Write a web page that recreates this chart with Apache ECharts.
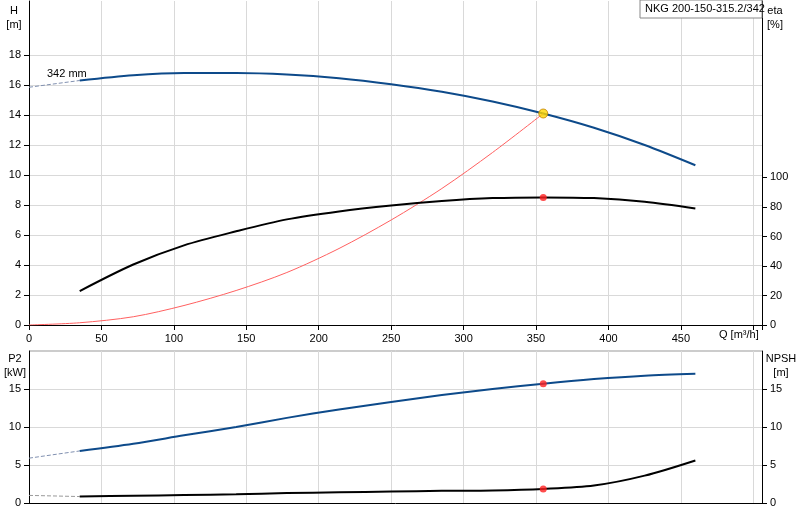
<!DOCTYPE html>
<html><head><meta charset="utf-8">
<script src="https://cdn.jsdelivr.net/npm/echarts@6/dist/echarts.min.js"></script>
<style>html,body{margin:0;padding:0;background:#fff}#c{width:800px;height:520px}</style>
</head><body><div id="c"></div>
<script>
const qPts = [35,72,107,143,178,214,250,285,320,355,390,425,460];
const headVals = [16.3,16.65,16.8,16.8,16.7,16.45,16.05,15.55,14.9,14.1,13.15,12.0,10.65];
const etaVals = [23,41,54,63.5,71.6,77,81,84,86,86.5,86,83.5,79];
const p2Vals = [6.85,7.8,8.9,10.0,11.2,12.3,13.3,14.2,15.0,15.7,16.3,16.75,17.0];
const npshVals = [0.85,0.95,1.05,1.15,1.3,1.4,1.5,1.6,1.65,1.85,2.3,3.6,5.6];
const sysQ = [0,35,72,107,143,178,214,250,285,320,355];
const sysH = [0,0.15,0.55,1.3,2.3,3.5,5.1,7.0,9.1,11.5,14.1];
const headExt = [[0,15.85],[35,16.3]];
const p2Ext = [[0,5.9],[35,6.85]];
const npshExt = [[0,1.0],[35,0.85]];
const dutyQ = 355, dutyH = 14.1, dutyEta = 86.5, dutyP2 = 15.7, dutyNpsh = 1.85;
const xTicks = [0,50,100,150,200,250,300,350,400,450];
const hTicks = [0,2,4,6,8,10,12,14,16,18];
const etaTicks = [0,20,40,60,80,100];
const lowTicks = [0,5,10,15];

const pair = (xs, ys) => xs.map((x,i)=>[x,ys[i]]);
const F = 'Liberation Sans, Arial, sans-serif';
const lab = {color:'#000', fontFamily:F, fontSize:11};
const gridLine = {show:true, lineStyle:{color:'#d9d9d9', width:1}};
const blk = {color:'#000'};
const chart = echarts.init(document.getElementById('c'));
chart.setOption({
  animation:false,
  grid:[{left:29,right:38,top:1,height:324},{left:29,right:38,top:351,height:152}],
  xAxis:[
    {gridIndex:0,type:'value',min:0,max:506,interval:50,
     axisLine:{lineStyle:blk},axisTick:{lineStyle:blk},
     axisLabel:{...lab,formatter:v=>xTicks.includes(v)?String(v):''},splitLine:gridLine},
    {gridIndex:1,type:'value',min:0,max:506,interval:50,
     axisLine:{lineStyle:blk},axisTick:{show:false},axisLabel:{show:false},splitLine:gridLine}
  ],
  yAxis:[
    {gridIndex:0,type:'value',min:0,max:21.6,interval:2,
     axisLine:{show:true,lineStyle:blk},axisTick:{show:true,lineStyle:blk,customValues:hTicks},
     axisLabel:{...lab,customValues:hTicks},splitLine:gridLine},
    {gridIndex:0,type:'value',min:0,max:219.6,interval:20,position:'right',
     axisLine:{show:true,lineStyle:blk},axisTick:{show:true,lineStyle:blk,customValues:etaTicks},
     axisLabel:{...lab,customValues:etaTicks},splitLine:{show:false}},
    {gridIndex:1,type:'value',min:0,max:20,interval:5,
     axisLine:{show:true,lineStyle:blk},axisTick:{show:true,lineStyle:blk,customValues:lowTicks},
     axisLabel:{...lab,customValues:lowTicks},splitLine:gridLine},
    {gridIndex:1,type:'value',min:0,max:20,interval:5,position:'right',
     axisLine:{show:true,lineStyle:blk},axisTick:{show:true,lineStyle:blk,customValues:lowTicks},
     axisLabel:{...lab,customValues:lowTicks},splitLine:{show:false}}
  ],
  series:[
    {type:'line',xAxisIndex:0,yAxisIndex:0,data:headExt,symbol:'none',lineStyle:{color:'#8090b0',width:1,type:'dashed'}},
    {type:'line',xAxisIndex:0,yAxisIndex:0,data:pair(qPts,headVals),symbol:'none',smooth:0.3,lineStyle:{color:'#0d4a8a',width:2}},
    {type:'line',xAxisIndex:0,yAxisIndex:0,data:pair(sysQ,sysH),symbol:'none',smooth:0.3,lineStyle:{color:'#ff6060',width:1}},
    {type:'line',xAxisIndex:0,yAxisIndex:1,data:pair(qPts,etaVals),symbol:'none',smooth:0.3,lineStyle:{color:'#000',width:2}},
    {type:'scatter',xAxisIndex:0,yAxisIndex:0,data:[[dutyQ,dutyH]],symbolSize:9,itemStyle:{color:'#ffd700',borderColor:'#c08000',borderWidth:1},z:5},
    {type:'scatter',xAxisIndex:0,yAxisIndex:1,data:[[dutyQ,dutyEta]],symbolSize:7,itemStyle:{color:'#ff2020'},z:5},
    {type:'line',xAxisIndex:1,yAxisIndex:2,data:p2Ext,symbol:'none',lineStyle:{color:'#8090b0',width:1,type:'dashed'}},
    {type:'line',xAxisIndex:1,yAxisIndex:2,data:pair(qPts,p2Vals),symbol:'none',smooth:0.3,lineStyle:{color:'#0d4a8a',width:2}},
    {type:'line',xAxisIndex:1,yAxisIndex:3,data:npshExt,symbol:'none',lineStyle:{color:'#999',width:1,type:'dashed'}},
    {type:'line',xAxisIndex:1,yAxisIndex:3,data:pair(qPts,npshVals),symbol:'none',smooth:0.3,lineStyle:{color:'#000',width:2}},
    {type:'scatter',xAxisIndex:1,yAxisIndex:2,data:[[dutyQ,dutyP2]],symbolSize:7,itemStyle:{color:'#ff2020'},z:5},
    {type:'scatter',xAxisIndex:1,yAxisIndex:3,data:[[dutyQ,dutyNpsh]],symbolSize:7,itemStyle:{color:'#ff2020'},z:5}
  ],
  graphic:[
    {type:'line',shape:{x1:29,y1:351,x2:762,y2:351},style:{stroke:'#999',lineWidth:1}},
    {type:'text',style:{x:14,y:4,text:'H\n[m]',fill:'#000',font:'11px '+F,align:'center',lineHeight:14}},
    {type:'text',style:{x:775,y:4,text:'eta\n[%]',fill:'#000',font:'11px '+F,align:'center',lineHeight:14}},
    {type:'text',style:{x:15,y:352,text:'P2\n[kW]',fill:'#000',font:'11px '+F,align:'center',lineHeight:14}},
    {type:'text',style:{x:781,y:352,text:'NPSH\n[m]',fill:'#000',font:'11px '+F,align:'center',lineHeight:14}},
    {type:'text',style:{x:719,y:329,text:'Q [m³/h]',fill:'#000',font:'11px '+F}},
    {type:'text',style:{x:47,y:68,text:'342 mm',fill:'#000',font:'11px '+F}},
    {type:'rect',shape:{x:640,y:0,width:122,height:18},style:{fill:'#fff',stroke:'#888',lineWidth:1},z:10},
    {type:'text',z:11,style:{x:645,y:3,text:'NKG 200-150-315.2/342',fill:'#000',font:'11px '+F}}
  ]
});
</script></body></html>
